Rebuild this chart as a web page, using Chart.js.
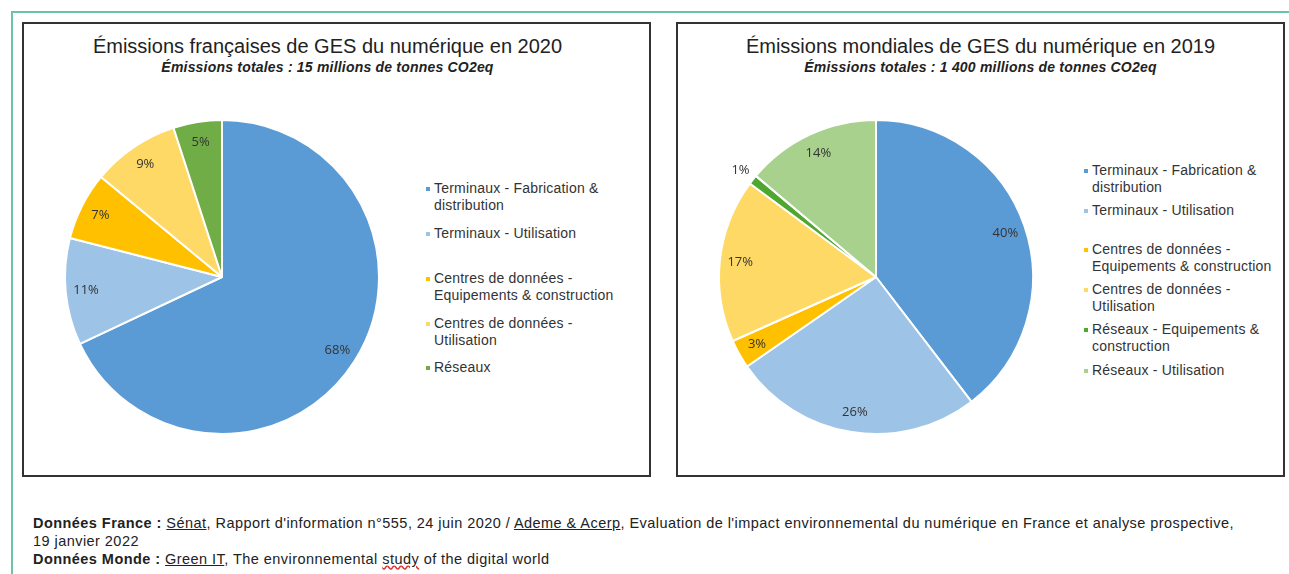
<!DOCTYPE html>
<html lang="fr">
<head>
<meta charset="utf-8">
<script src="https://cdn.jsdelivr.net/npm/chart.js@4/dist/chart.umd.min.js"></script>
<style>
  body { margin: 0; background: #fff; font-family: "Liberation Sans", Arial, sans-serif; color: #222; }
  .page { position: relative; width: 1289px; height: 574px; overflow: hidden; }
  .frame { position: absolute; left: 11px; top: 11px; width: 1400px; height: 700px;
           border-top: 2px solid #6cc4a4; border-left: 2px solid #6cc4a4; }
  .box { position: absolute; top: 22px; height: 451px; border: 2px solid #333; background: #fff; }
  .box h2 { position: absolute; left: 0; right: 0; top: 11px; margin: 0; text-align: center;
            font-weight: normal; font-size: 20px; color: #222; }
  .box h3 { position: absolute; left: 0; right: 0; top: 35px; margin: 0; text-align: center;
            font-weight: bold; font-style: italic; font-size: 14px; letter-spacing: 0.2px; color: #222; }
  .pie { position: absolute; left: 20px; top: 75px; width: 356px; height: 356px; }
  .legend { position: absolute; font-size: 14px; letter-spacing: 0.2px; color: #333; line-height: 17px; }
  .legend div { position: absolute; left: 0; white-space: nowrap; padding-left: 8px; }
  .legend span.m { position: absolute; left: 0; top: 7px; width: 4px; height: 4px; }
  .foot { position: absolute; left: 33px; top: 514px; font-size: 14.5px; letter-spacing: 0.45px;
          line-height: 18px; color: #222; }
  .foot u { text-decoration: underline; }
  .wavy { text-decoration: underline wavy #d33; }
</style>
</head>
<body>
<div class="page">
  <div class="frame"></div>

  <div class="box" style="left:22px; width:625px;">
    <h2 style="padding-right:18px;">Émissions françaises de GES du numérique en 2020</h2>
    <h3 style="padding-right:18px;">Émissions totales : 15 millions de tonnes CO2eq</h3>
    <div class="pie"><canvas id="chartFrance"></canvas></div>
    <div class="legend" id="legendFrance" style="left:402px; top:0;"></div>
  </div>

  <div class="box" style="left:676px; width:605px;">
    <h2>Émissions mondiales de GES du numérique en 2019</h2>
    <h3>Émissions totales : 1 400 millions de tonnes CO2eq</h3>
    <div class="pie"><canvas id="chartMonde"></canvas></div>
    <div class="legend" id="legendMonde" style="left:406px; top:0;"></div>
  </div>

  <div class="foot">
    <b>Données France :</b> <u>Sénat</u>, Rapport d'information n°555, 24 juin 2020 / <u>Ademe &amp; Acerp</u>, Evaluation de l'impact environnemental du numérique en France et analyse prospective,<br>
    19 janvier 2022<br>
    <b>Données Monde :</b> <u>Green IT</u>, The environnemental <span class="wavy">study</span> of the digital world
  </div>
</div>

<script>
// France 2020
const labelsFrance = [
  ['Terminaux - Fabrication &', 'distribution'],
  ['Terminaux - Utilisation'],
  ['Centres de données -', 'Equipements & construction'],
  ['Centres de données -', 'Utilisation'],
  ['Réseaux']
];
const valuesFrance = [68, 11, 7, 9, 5];
const colorsFrance = ['#5b9bd5', '#9dc3e6', '#ffc000', '#ffd966', '#70ad47'];

// Monde 2019
const labelsMonde = [
  ['Terminaux - Fabrication &', 'distribution'],
  ['Terminaux - Utilisation'],
  ['Centres de données -', 'Equipements & construction'],
  ['Centres de données -', 'Utilisation'],
  ['Réseaux - Equipements &', 'construction'],
  ['Réseaux - Utilisation']
];
const valuesMonde = [40, 26, 3, 17, 1, 14];
const colorsMonde = ['#5b9bd5', '#9dc3e6', '#ffc000', '#ffd966', '#4ea72e', '#a9d18e'];

// legend item tops (layout only)
const legendTopsFrance = [156, 201, 246, 291, 335];
const legendTopsMonde = [138, 178, 217, 257, 297, 338];

const pctLabels = {
  id: 'pctLabels',
  afterDatasetsDraw(chart) {
    const ctx = chart.ctx;
    const meta = chart.getDatasetMeta(0);
    const data = chart.data.datasets[0].data;
    ctx.save();
    ctx.font = '13px "Open Sans", "Liberation Sans", sans-serif';
    ctx.fillStyle = '#333';
    ctx.textAlign = 'center';
    ctx.textBaseline = 'middle';
    meta.data.forEach((arc, i) => {
      const p = arc.getProps(['x', 'y', 'startAngle', 'endAngle', 'outerRadius']);
      const mid = (p.startAngle + p.endAngle) / 2;
      const r = p.outerRadius * (data[i] < 2 ? 1.1 : 0.87);
      ctx.fillText(data[i] + '%', p.x + Math.cos(mid) * r, p.y + Math.sin(mid) * r);
    });
    ctx.restore();
  }
};

function makePie(id, labels, values, colors) {
  new Chart(document.getElementById(id), {
    type: 'pie',
    data: {
      labels: labels.map(l => l.join(' ')),
      datasets: [{
        data: values,
        backgroundColor: colors,
        borderColor: '#ffffff',
        borderWidth: 2
      }]
    },
    options: {
      responsive: true,
      maintainAspectRatio: false,
      animation: false,
      events: [],
      layout: { padding: 20 },
      plugins: { legend: { display: false }, tooltip: { enabled: false } }
    },
    plugins: [pctLabels]
  });
}

function makeLegend(id, labels, colors, tops) {
  const el = document.getElementById(id);
  labels.forEach((lines, i) => {
    const d = document.createElement('div');
    d.style.top = tops[i] + 'px';
    d.innerHTML = '<span class="m" style="background:' + colors[i] + '"></span>' +
      lines.map(t => t.replace(/&/g, '&amp;')).join('<br>');
    el.appendChild(d);
  });
}

makePie('chartFrance', labelsFrance, valuesFrance, colorsFrance);
makePie('chartMonde', labelsMonde, valuesMonde, colorsMonde);
makeLegend('legendFrance', labelsFrance, colorsFrance, legendTopsFrance);
makeLegend('legendMonde', labelsMonde, colorsMonde, legendTopsMonde);
</script>
</body>
</html>
